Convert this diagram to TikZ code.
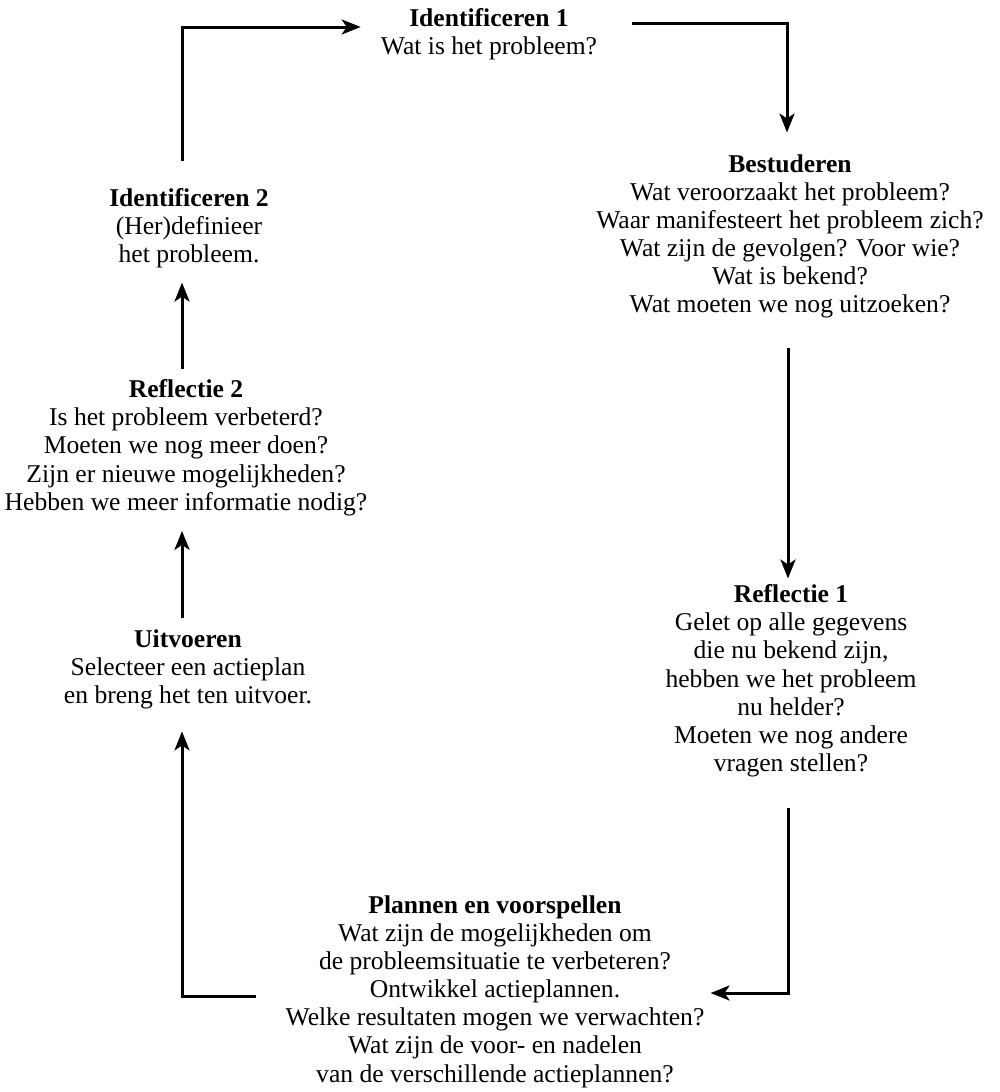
\documentclass[tikz,border=0pt]{standalone}
\usepackage{fontspec}
\setmainfont{Liberation Serif}
\usetikzlibrary{arrows.meta}
\begin{document}
\begin{tikzpicture}[x=1pt,y=-1pt,
  stage/.style={anchor=north,align=center,inner sep=0pt,
    font=\fontsize{25.6}{28.1}\selectfont},
  flow/.style={line width=3pt,-{Stealth[length=19pt,width=15pt,inset=5pt]}}]
\path[use as bounding box] (0,0) rectangle (999,1092);

% the seven stages of the cycle
\node[stage] (id1) at (489,8.5) {\textbf{Identificeren 1}\\Wat is het probleem?};
\node[stage] (best) at (790,154.5) {\textbf{Bestuderen}\\Wat veroorzaakt het probleem?\\Waar manifesteert het probleem zich?\\Wat zijn de gevolgen? Voor wie?\\Wat is bekend?\\Wat moeten we nog uitzoeken?};
\node[stage] (r1) at (791,584.5) {\textbf{Reflectie 1}\\Gelet op alle gegevens\\die nu bekend zijn,\\hebben we het probleem\\nu helder?\\Moeten we nog andere\\vragen stellen?};
\node[stage] (plan) at (495,895.5) {\textbf{Plannen en voorspellen}\\Wat zijn de mogelijkheden om\\de probleemsituatie te verbeteren?\\Ontwikkel actieplannen.\\Welke resultaten mogen we verwachten?\\Wat zijn de voor- en nadelen\\van de verschillende actieplannen?};
\node[stage] (uit) at (188,629.5) {\textbf{Uitvoeren}\\Selecteer een actieplan\\en breng het ten uitvoer.};
\node[stage] (r2) at (186,379.5) {\textbf{Reflectie 2}\\Is het probleem verbeterd?\\Moeten we nog meer doen?\\Zijn er nieuwe mogelijkheden?\\Hebben we meer informatie nodig?};
\node[stage] (id2) at (189,188.5) {\textbf{Identificeren 2}\\(Her)definieer\\het probleem.};

% corner points of the connectors
\coordinate (tl) at (182,27);
\coordinate (tr) at (787,23);
\coordinate (rx) at (788,0);
\coordinate (br) at (788,993);
\coordinate (bl) at (182,996);

% connectors
\draw[flow,shorten <=28pt,shorten >=20pt] (id2.north -| tl) -- (tl) -- (tl -| id1.west);
\draw[flow,shorten <=35pt,shorten >=22pt] (tr -| id1.east) -- (tr) -- (tr |- best.north);
\draw[flow,shorten <=29pt,shorten >=6pt] (best.south -| rx) -- (r1.north -| rx);
\draw[flow,shorten <=31pt,shorten >=6pt] (r1.south -| br) -- (br) -- (br -| plan.east);
\draw[flow,shorten <=29pt,shorten >=22pt] (bl -| plan.west) -- (bl) -- (bl |- uit.south);
\draw[flow,shorten <=12pt,shorten >=15pt] (uit.north -| tl) -- (r2.south -| tl);
\draw[flow,shorten <=11pt,shorten >=14pt] (r2.north -| tl) -- (id2.south -| tl);
\end{tikzpicture}
\end{document}
